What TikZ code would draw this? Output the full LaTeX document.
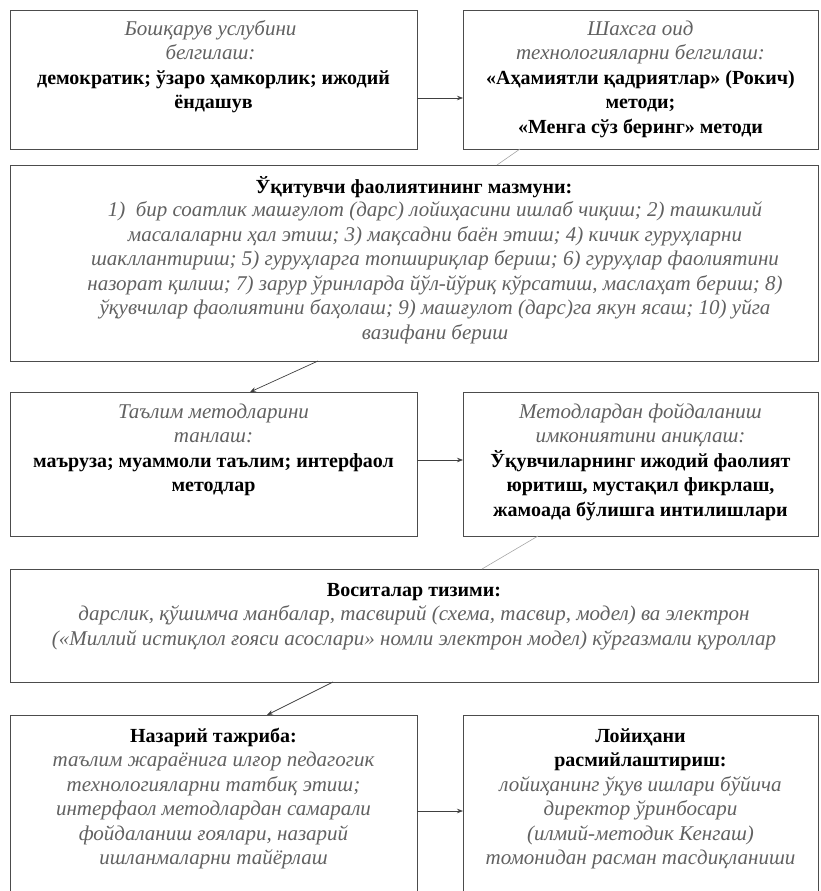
\documentclass[tikz,border=0pt]{standalone}
\usepackage{fontspec}
\setmainfont{Liberation Serif}
\usetikzlibrary{arrows.meta}
\newcommand\fl{\rule{0pt}{16pt}}
\newcommand\Itx[1]{{\fontsize{21}{24.5}\selectfont\itshape\color{black!62}#1}}
\newcommand\Btx[1]{{\fontsize{20}{24.5}\selectfont\bfseries #1}}
\begin{document}
\begin{tikzpicture}[x=1pt,y=-1pt,
  box/.style={draw=black!70, line width=0.7pt, anchor=north west, inner sep=0pt, outer sep=0pt},
  txt/.style={anchor=north, align=center, inner sep=0pt, font=\fontsize{20}{24.5}\selectfont},
  arr/.style={draw=black!75, line width=0.7pt, -{Stealth[length=6pt,width=4.5pt]}},
  faint/.style={draw=black!35, line width=0.6pt}]
\useasboundingbox (0,0) rectangle (820,891);
\clip (0,0) rectangle (820,891);
% boxes
\node[box, minimum width=407pt, minimum height=139pt] (b1) at (10,10) {};
\node[box, minimum width=355pt, minimum height=139pt] (b2) at (463,10) {};
\node[box, minimum width=808pt, minimum height=196pt] (b3) at (10,165) {};
\node[box, minimum width=407pt, minimum height=144pt] (b4) at (10,392) {};
\node[box, minimum width=355pt, minimum height=144pt] (b5) at (463,392) {};
\node[box, minimum width=808pt, minimum height=113pt] (b6) at (10,569) {};
\node[box, minimum width=407pt, minimum height=185pt] (b7) at (10,715) {};
\node[box, minimum width=355pt, minimum height=185pt] (b8) at (463,715) {};
% texts
\node[txt] (t1) at ([xshift=-3pt,yshift=-9pt]b1.north) {\fl\Itx{Бошқарув услубини}\\ \Itx{белгилаш:}\\ \Btx{\hspace*{6pt}демократик; ўзаро ҳамкорлик; ижодий}\\ \Btx{\hspace*{6pt}ёндашув}};
\node[txt] (t2) at ([yshift=-9pt]b2.north) {\fl\Itx{Шахсга оид}\\ \Itx{технологияларни белгилаш:}\\ \Btx{«Аҳамиятли қадриятлар» (Рокич)}\\ \Btx{методи;}\\ \Btx{«Менга сўз беринг» методи}};
\node[txt] (t3) at ([yshift=-11pt]b3.north) {\fl\Btx{Ўқитувчи фаолиятининг мазмуни:}};
\node[txt] (t3b) at ([xshift=21pt,yshift=-35.5pt]b3.north) {\fl
 \Itx{1)\ \ бир соатлик машғулот (дарс) лойиҳасини ишлаб чиқиш; 2) ташкилий}\\
 \Itx{масалаларни ҳал этиш; 3) мақсадни баён этиш; 4) кичик гуруҳларни}\\
 \Itx{шакллантириш; 5) гуруҳларга топшириқлар бериш; 6) гуруҳлар фаолиятини}\\
 \Itx{назорат қилиш; 7) зарур ўринларда йўл-йўриқ кўрсатиш, маслаҳат бериш; 8)}\\
 \Itx{ўқувчилар фаолиятини баҳолаш; 9) машғулот (дарс)га якун ясаш; 10) уйга}\\
 \Itx{вазифани бериш}};
\node[txt] (t4) at ([yshift=-10pt]b4.north) {\fl\Itx{Таълим методларини}\\ \Itx{танлаш:}\\ \Btx{маъруза; муаммоли таълим; интерфаол}\\ \Btx{методлар}};
\node[txt] (t5) at ([yshift=-10pt]b5.north) {\fl\Itx{Методлардан фойдаланиш}\\ \Itx{имкониятини аниқлаш:}\\ \Btx{Ўқувчиларнинг ижодий фаолият}\\ \Btx{юритиш, мустақил фикрлаш,}\\ \Btx{жамоада бўлишга интилишлари}};
\node[txt] (t6) at ([yshift=-11pt]b6.north) {\fl\Btx{Воситалар тизими:}\\
 \Itx{дарслик, қўшимча манбалар, тасвирий (схема, тасвир, модел) ва электрон}\\
 \Itx{(«Миллий истиқлол ғояси асослари» номли электрон модел) кўргазмали қуроллар}};
\node[txt] (t7) at ([yshift=-11pt]b7.north) {\fl\Btx{Назарий тажриба:}\\ \Itx{таълим жараёнига илғор педагогик}\\ \Itx{технологияларни татбиқ этиш;}\\ \Itx{интерфаол методлардан самарали}\\ \Itx{фойдаланиш ғоялари, назарий}\\ \Itx{ишланмаларни тайёрлаш}};
\node[txt] (t8) at ([yshift=-11pt]b8.north) {\fl\Btx{Лойиҳани}\\ \Btx{расмийлаштириш:}\\ \Itx{лойиҳанинг ўқув ишлари бўйича}\\ \Itx{директор ўринбосари}\\ \Itx{(илмий-методик Кенгаш)}\\ \Itx{томонидан расман тасдиқланиши}};
% connectors
\draw[arr] ([yshift=-18.5pt]b1.east) -- ([yshift=-18.5pt]b2.west);
\draw[faint] ([xshift=-120.5pt]b2.south) -- ([xshift=83pt]b3.north);
\draw[arr] ([xshift=-96pt]b3.south) -- ([xshift=36.5pt]b4.north);
\draw[arr] ([yshift=4pt]b4.east) -- ([yshift=4pt]b5.west);
\draw[faint] ([xshift=-102.5pt]b5.south) -- ([xshift=68pt]b6.north);
\draw[arr] ([xshift=-81pt]b6.south) -- ([xshift=53.5pt]b7.north);
\draw[arr] ([yshift=-3.5pt]b7.east) -- ([yshift=-3.5pt]b8.west);
\end{tikzpicture}
\end{document}
